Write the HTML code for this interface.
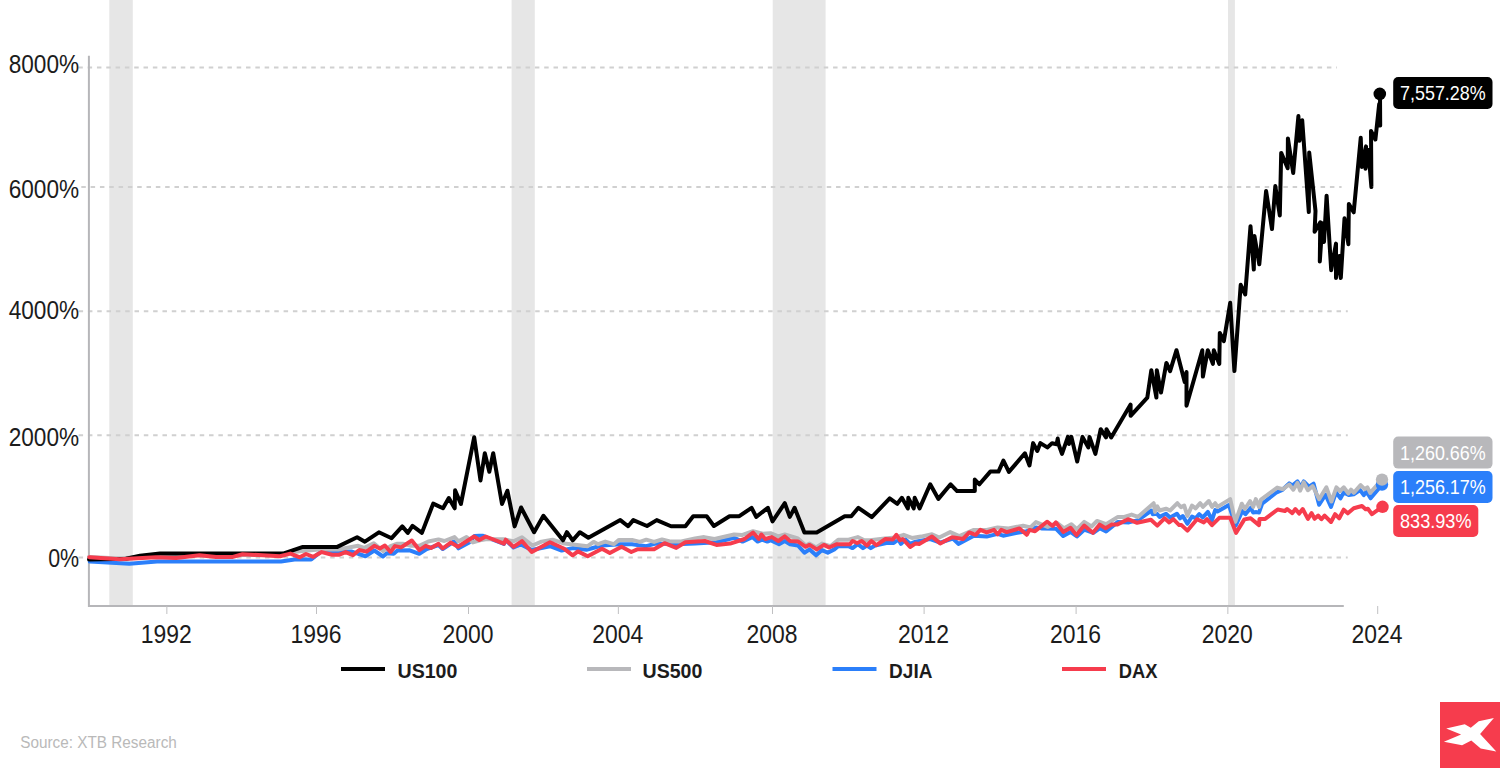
<!DOCTYPE html>
<html><head><meta charset="utf-8"><title>US100 vs US500 vs DJIA vs DAX</title>
<style>
html,body{margin:0;padding:0;background:#ffffff;}
body{width:1500px;height:768px;position:relative;overflow:hidden;font-family:"Liberation Sans",sans-serif;}
</style></head><body>
<svg width="1500" height="768" viewBox="0 0 1500 768" style="position:absolute;left:0;top:0">
<rect x="109.3" y="0" width="23.50" height="605" fill="#e6e6e6"/>
<rect x="511.6" y="0" width="23.20" height="605" fill="#e6e6e6"/>
<rect x="772.7" y="0" width="52.90" height="605" fill="#e6e6e6"/>
<rect x="1228.0" y="0" width="6.90" height="605" fill="#e6e6e6"/>
<line x1="78.3" y1="67.4" x2="1337" y2="67.4" stroke="#d0d0d0" stroke-width="2" stroke-dasharray="4.5 4.818"/>
<line x1="81.3" y1="187.1" x2="1341.6" y2="187.1" stroke="#d0d0d0" stroke-width="2" stroke-dasharray="4.5 4.818"/>
<line x1="78.6" y1="311.3" x2="1347.8" y2="311.3" stroke="#d0d0d0" stroke-width="2" stroke-dasharray="4.5 4.818"/>
<line x1="78.6" y1="435.3" x2="1347.8" y2="435.3" stroke="#d0d0d0" stroke-width="2" stroke-dasharray="4.5 4.818"/>
<line x1="78.6" y1="557.4" x2="1347.7" y2="557.4" stroke="#d0d0d0" stroke-width="2" stroke-dasharray="4.5 4.818"/>
<line x1="88.9" y1="55.7" x2="88.9" y2="607" stroke="#b6b6b9" stroke-width="2"/>
<line x1="88" y1="605.9" x2="1343.8" y2="605.9" stroke="#b6b6b9" stroke-width="2"/>
<line x1="166.85" y1="606" x2="166.85" y2="614" stroke="#c0c0c2" stroke-width="1"/>
<line x1="316.5" y1="606" x2="316.5" y2="614" stroke="#c0c0c2" stroke-width="1"/>
<line x1="468.5" y1="606" x2="468.5" y2="614" stroke="#c0c0c2" stroke-width="1"/>
<line x1="618.35" y1="606" x2="618.35" y2="614" stroke="#c0c0c2" stroke-width="1"/>
<line x1="772.5" y1="606" x2="772.5" y2="614" stroke="#c0c0c2" stroke-width="1"/>
<line x1="924.1" y1="606" x2="924.1" y2="614" stroke="#c0c0c2" stroke-width="1"/>
<line x1="1076.1" y1="606" x2="1076.1" y2="614" stroke="#c0c0c2" stroke-width="1"/>
<line x1="1227.85" y1="606" x2="1227.85" y2="614" stroke="#c0c0c2" stroke-width="1"/>
<line x1="1377.7" y1="606" x2="1377.7" y2="614" stroke="#c0c0c2" stroke-width="1"/>
<polyline points="89.80,561.60 129.30,563.70 157.00,561.60 281.00,561.50 294.60,559.40 311.25,559.40 320.60,552.00 351.90,551.60 365.40,556.25 374.30,550.50 383.00,556.50 386.70,553.30 393.70,553.80 397.40,550.60 409.70,550.30 419.30,553.80 426.70,549.00 438.50,545.00 442.70,549.00 453.90,541.50 458.50,548.30 469.20,542.40 474.50,536.00 479.30,535.70 483.10,535.70 485.70,537.00 503.90,544.00 505.70,540.00 513.50,547.50 520.90,544.50 531.70,550.00 550.00,546.20 561.70,550.50 572.70,548.10 586.40,549.70 602.00,545.50 620.30,544.20 632.00,544.20 646.30,546.20 655.40,543.60 676.25,544.20 695.00,543.60 716.50,542.30 734.10,537.70 742.50,541.60 752.30,537.10 757.50,541.60 762.10,539.70 767.30,541.60 770.50,540.30 779.00,544.20 784.80,541.00 790.05,544.20 797.90,545.50 804.40,552.70 809.60,549.40 816.10,555.30 822.00,550.10 827.80,552.70 834.30,549.40 838.20,546.20 848.60,546.20 852.55,548.10 857.80,544.20 863.00,548.10 866.90,545.50 870.80,548.10 875.00,545.50 886.40,543.00 893.70,543.00 898.30,539.40 901.00,543.90 905.50,539.40 910.10,543.90 915.60,541.60 930.20,539.00 940.20,542.70 952.90,538.50 958.40,543.90 973.90,535.70 986.70,536.60 997.60,533.90 1003.10,535.70 1015.80,533.00 1026.80,531.20 1035.90,527.50 1041.30,528.40 1055.90,528.70 1063.20,536.00 1070.50,531.90 1076.90,536.50 1084.20,529.70 1093.30,532.80 1099.70,528.30 1106.10,531.50 1117.90,521.90 1128.90,522.40 1138.00,520.10 1151.40,510.50 1152.80,514.20 1156.90,513.70 1159.60,516.90 1166.00,513.70 1170.10,517.40 1176.90,513.70 1180.10,518.30 1182.80,516.00 1187.40,523.80 1192.00,516.50 1195.60,518.30 1199.25,514.20 1202.90,517.40 1207.90,511.90 1212.00,520.10 1215.20,510.10 1217.50,511.40 1228.90,505.10 1235.70,525.60 1242.30,511.00 1245.40,514.20 1250.60,507.90 1253.20,512.60 1256.40,512.10 1259.00,512.60 1262.10,503.75 1276.70,492.30 1281.90,490.20 1289.20,483.40 1292.30,485.50 1297.50,481.40 1300.60,487.10 1303.75,481.40 1309.00,486.60 1313.60,483.70 1319.10,504.70 1325.50,494.60 1331.00,506.90 1336.00,492.40 1340.50,498.30 1343.70,492.40 1348.70,495.10 1353.75,494.20 1360.10,490.10 1363.80,495.10 1366.50,491.40 1370.60,498.30 1382.00,484.60" fill="none" stroke="#2b7ffa" stroke-width="4" stroke-linejoin="round" stroke-linecap="round"/>
<polyline points="89.00,557.00 120.00,558.50 160.00,555.20 283.00,555.00 292.50,552.00 318.50,549.50 338.30,549.50 358.10,545.80 364.40,547.90 373.75,543.20 383.00,551.10 390.50,546.10 397.40,543.70 402.70,543.70 411.30,545.80 419.30,545.80 428.30,541.50 438.50,539.40 444.30,541.00 454.50,537.10 458.50,541.30 466.50,537.10 472.90,542.40 479.90,540.30 485.70,539.20 503.30,539.20 513.50,541.30 522.00,537.30 532.40,545.50 541.50,541.60 552.60,539.70 564.30,543.60 587.70,546.20 593.60,541.90 598.10,544.20 605.30,541.60 613.75,544.20 619.00,539.90 632.00,539.90 639.80,541.90 646.30,539.70 654.10,541.90 662.00,539.40 671.00,541.60 680.20,541.60 695.00,538.40 704.10,537.10 714.50,539.00 734.10,534.50 741.90,535.10 753.00,531.20 762.70,533.80 770.50,533.20 778.30,536.40 784.80,534.50 797.90,538.40 805.70,545.50 809.60,543.60 816.10,547.50 822.00,543.60 830.40,546.20 838.20,539.70 848.60,539.70 857.80,537.10 864.30,540.30 870.00,540.30 884.60,538.50 895.50,537.50 903.70,534.80 911.90,537.90 921.00,536.60 932.00,534.30 939.30,537.50 950.20,532.10 959.30,536.10 973.90,529.90 986.70,529.90 997.60,527.50 1008.50,528.40 1023.10,525.70 1030.40,527.50 1035.90,522.10 1047.70,526.90 1056.90,522.80 1064.10,528.30 1071.40,524.20 1076.90,529.20 1084.20,521.90 1091.50,526.50 1097.00,521.00 1106.10,524.20 1117.90,516.90 1124.30,516.90 1131.60,514.60 1138.00,516.90 1153.70,503.20 1155.00,511.90 1157.30,506.40 1159.60,510.50 1166.00,508.70 1170.10,510.50 1177.40,503.20 1181.00,507.30 1184.20,505.50 1187.40,516.00 1192.00,505.50 1195.60,508.30 1200.20,503.20 1202.90,506.90 1208.80,501.00 1212.00,506.90 1215.20,503.20 1217.50,506.90 1230.20,499.10 1235.30,521.90 1241.80,503.75 1244.90,509.00 1250.10,501.10 1253.20,506.90 1255.80,499.10 1259.00,506.90 1261.00,499.60 1277.20,487.60 1282.90,489.20 1289.20,484.50 1293.30,489.70 1297.50,482.90 1300.10,490.70 1303.75,482.40 1307.90,490.20 1312.70,486.00 1319.10,499.20 1326.40,487.30 1331.40,501.50 1336.40,487.30 1340.10,491.00 1343.70,487.30 1348.30,493.30 1351.00,489.60 1353.75,492.80 1360.60,485.10 1364.70,489.20 1367.40,487.30 1370.20,492.80 1382.00,479.60" fill="none" stroke="#b8b8bb" stroke-width="4" stroke-linejoin="round" stroke-linecap="round"/>
<polyline points="89.00,559.50 126.00,558.80 140.00,555.80 160.00,553.60 283.10,553.60 302.90,546.90 337.30,546.90 357.10,537.30 364.90,541.70 378.90,532.30 391.60,538.20 402.30,526.40 407.80,532.90 412.50,525.90 421.90,532.90 433.20,503.60 443.00,508.30 448.80,498.10 454.70,508.30 455.10,490.30 460.90,504.00 474.20,437.20 480.50,480.50 484.80,453.20 489.30,471.80 493.20,453.20 502.00,504.00 507.40,490.70 514.60,526.40 521.10,507.50 534.10,532.20 543.40,515.80 563.00,540.30 566.90,532.20 572.70,540.30 579.90,532.20 588.40,537.70 620.30,520.10 628.10,526.25 633.30,520.10 647.00,526.00 656.70,520.10 671.00,526.25 685.40,526.25 693.20,516.20 706.70,516.20 713.90,526.00 729.50,516.20 739.30,516.20 751.60,507.80 756.20,516.90 767.90,507.80 772.50,521.40 784.80,503.20 789.80,516.90 794.60,507.80 804.40,532.50 816.70,532.50 844.70,516.20 851.25,516.20 858.40,507.80 871.80,517.10 889.70,498.40 897.30,503.80 901.90,497.80 907.90,508.40 908.30,497.80 913.75,508.40 914.70,497.80 919.60,508.40 930.20,484.30 938.40,498.90 950.60,484.30 957.10,491.10 974.80,491.10 974.80,479.60 979.40,484.30 990.30,471.60 998.50,471.60 1003.40,460.60 1008.90,471.90 1024.90,453.30 1029.50,465.50 1033.10,443.10 1037.30,451.00 1040.40,443.10 1047.30,447.40 1052.00,443.30 1056.70,444.20 1057.70,438.50 1058.50,444.00 1062.00,453.90 1067.90,436.90 1069.00,443.90 1071.40,436.90 1077.20,461.50 1082.50,436.90 1088.40,447.40 1089.50,436.90 1095.40,453.90 1100.70,429.20 1106.00,437.40 1106.50,429.20 1111.20,437.40 1130.60,404.60 1130.60,415.80 1147.30,397.60 1151.30,370.20 1156.40,397.60 1156.80,370.20 1161.00,392.60 1166.40,362.90 1170.10,371.10 1176.50,350.20 1184.70,382.00 1186.50,372.00 1186.50,405.80 1202.30,350.20 1202.90,376.60 1207.80,350.20 1212.90,363.90 1213.80,350.20 1219.30,363.90 1219.80,332.90 1223.85,341.10 1230.20,302.80 1234.40,371.10 1240.70,284.80 1245.20,294.50 1250.50,226.20 1253.80,269.50 1254.40,235.90 1259.30,264.30 1266.10,191.00 1272.00,229.10 1275.30,186.10 1279.80,215.40 1281.20,152.90 1287.70,168.30 1287.90,138.40 1293.20,173.00 1298.40,116.10 1299.50,140.80 1302.20,120.20 1308.80,212.00 1309.20,152.50 1315.50,211.00 1314.60,231.70 1320.30,222.30 1319.80,261.40 1322.40,223.30 1324.00,242.00 1326.60,195.70 1331.20,270.20 1336.00,243.60 1336.00,278.00 1339.30,256.00 1340.80,278.00 1344.50,218.30 1348.40,244.20 1348.85,203.90 1353.70,212.30 1360.75,137.80 1361.85,166.90 1366.00,146.40 1365.50,168.75 1368.30,150.00 1371.40,187.00 1371.00,130.90 1375.40,139.50 1379.20,104.00 1380.20,125.50 1380.00,94.00" fill="none" stroke="#000000" stroke-width="4" stroke-linejoin="round" stroke-linecap="round"/>
<polyline points="89.30,557.20 119.70,559.30 156.00,557.30 176.00,558.10 199.50,555.20 216.00,557.10 232.00,557.10 242.50,554.20 280.00,556.25 290.40,553.60 299.80,557.30 306.00,554.00 313.30,556.80 321.70,552.10 332.10,554.70 339.40,554.70 345.60,552.10 352.90,555.20 359.20,550.00 366.50,551.60 374.30,545.80 379.80,548.50 384.90,545.50 390.50,551.90 395.00,546.10 401.10,547.40 411.80,540.50 419.30,550.10 425.70,545.80 431.00,547.90 438.50,543.70 442.70,548.50 450.70,542.60 458.00,546.70 474.00,536.50 479.30,540.00 485.70,536.50 503.90,543.70 505.70,539.70 513.50,546.90 522.00,541.10 531.70,552.00 550.00,542.30 564.30,548.80 572.70,555.30 577.90,551.40 587.70,556.20 602.00,548.80 609.80,553.10 621.60,546.80 631.30,552.00 637.80,549.20 654.10,549.20 664.50,543.20 676.25,547.90 685.40,542.30 704.80,541.00 716.50,544.90 730.20,543.60 744.50,539.00 753.00,532.50 758.80,539.00 761.40,534.50 765.30,539.00 771.80,537.10 778.30,541.00 784.80,536.40 790.05,541.00 797.90,541.40 805.70,546.80 809.60,544.90 816.75,549.40 823.90,544.90 829.10,547.50 836.90,544.20 849.90,544.20 852.55,541.00 857.10,543.00 861.70,541.00 866.90,545.50 871.40,541.00 876.40,545.20 885.50,539.00 892.80,539.40 896.40,534.80 900.10,540.30 902.80,539.00 910.10,547.00 915.60,543.40 919.20,543.90 932.00,536.60 940.20,543.40 952.00,537.20 963.00,539.00 969.30,532.40 975.70,534.80 980.30,529.90 986.70,532.40 994.00,529.90 997.60,534.30 1001.20,529.90 1006.70,532.10 1019.50,528.40 1026.80,534.80 1029.50,529.90 1035.00,531.20 1047.00,521.70 1052.70,526.00 1055.90,522.40 1063.20,531.90 1070.50,527.80 1076.45,535.10 1084.20,525.60 1092.90,532.80 1099.70,524.60 1105.60,528.30 1111.50,524.60 1117.00,524.60 1128.00,519.20 1137.10,522.80 1150.90,519.70 1157.30,525.60 1164.60,518.30 1169.20,522.40 1173.30,519.20 1179.20,525.10 1181.50,525.10 1187.40,530.60 1197.00,519.20 1203.80,522.40 1207.00,519.20 1212.00,525.10 1219.30,517.80 1230.20,517.80 1236.00,532.90 1244.40,519.40 1250.60,518.30 1259.00,525.10 1259.50,518.90 1265.20,518.90 1277.70,509.50 1285.00,511.00 1287.10,509.00 1292.30,513.10 1295.40,509.00 1299.10,513.60 1302.70,509.00 1307.90,518.90 1311.60,513.10 1314.60,518.80 1318.20,515.60 1321.40,519.25 1324.60,515.60 1331.00,522.00 1335.10,514.20 1339.20,518.30 1343.70,509.70 1347.80,513.30 1353.75,508.30 1362.00,506.00 1365.60,509.20 1367.90,508.80 1372.00,514.20 1382.00,506.90" fill="none" stroke="#f63c4d" stroke-width="4" stroke-linejoin="round" stroke-linecap="round"/>
<circle cx="1382" cy="484.6" r="6.2" fill="#2b7ffa"/>
<circle cx="1382" cy="479.6" r="6.2" fill="#b8b8bb"/>
<circle cx="1382.5" cy="506.8" r="6.2" fill="#f63c4d"/>
<circle cx="1379.8" cy="93.9" r="6.3" fill="#000000"/>
<rect x="1393.2" y="77" width="99.3" height="32" rx="5" ry="5" fill="#000000"/>
<text x="1442.85" y="100.00" text-anchor="middle" fill="#ffffff" font-family="Liberation Sans" font-size="21" textLength="85.7" lengthAdjust="spacingAndGlyphs">7,557.28%</text>
<rect x="1393.2" y="436.6" width="99.3" height="32" rx="5" ry="5" fill="#b8b8bb"/>
<text x="1442.85" y="459.60" text-anchor="middle" fill="#ffffff" font-family="Liberation Sans" font-size="21" textLength="85.7" lengthAdjust="spacingAndGlyphs">1,260.66%</text>
<rect x="1393.2" y="471" width="99.3" height="32" rx="5" ry="5" fill="#2b7ffa"/>
<text x="1442.85" y="494.00" text-anchor="middle" fill="#ffffff" font-family="Liberation Sans" font-size="21" textLength="85.7" lengthAdjust="spacingAndGlyphs">1,256.17%</text>
<rect x="1393.2" y="505" width="85.1" height="32" rx="5" ry="5" fill="#f63c4d"/>
<text x="1435.75" y="528.00" text-anchor="middle" fill="#ffffff" font-family="Liberation Sans" font-size="21" textLength="71.5" lengthAdjust="spacingAndGlyphs">833.93%</text>
<text x="8.70" y="73.30" fill="#1c1c1c" font-family="Liberation Sans" font-size="25" textLength="70.5" lengthAdjust="spacingAndGlyphs">8000%</text>
<text x="8.70" y="197.50" fill="#1c1c1c" font-family="Liberation Sans" font-size="25" textLength="70.5" lengthAdjust="spacingAndGlyphs">6000%</text>
<text x="8.70" y="319.40" fill="#1c1c1c" font-family="Liberation Sans" font-size="25" textLength="70.5" lengthAdjust="spacingAndGlyphs">4000%</text>
<text x="8.70" y="445.50" fill="#1c1c1c" font-family="Liberation Sans" font-size="25" textLength="70.5" lengthAdjust="spacingAndGlyphs">2000%</text>
<text x="48.20" y="567.30" fill="#1c1c1c" font-family="Liberation Sans" font-size="25" textLength="31" lengthAdjust="spacingAndGlyphs">0%</text>
<text x="140.75" y="642.8" fill="#1c1c1c" font-family="Liberation Sans" font-size="25" textLength="51" lengthAdjust="spacingAndGlyphs">1992</text>
<text x="290.40" y="642.8" fill="#1c1c1c" font-family="Liberation Sans" font-size="25" textLength="51" lengthAdjust="spacingAndGlyphs">1996</text>
<text x="442.40" y="642.8" fill="#1c1c1c" font-family="Liberation Sans" font-size="25" textLength="51" lengthAdjust="spacingAndGlyphs">2000</text>
<text x="592.25" y="642.8" fill="#1c1c1c" font-family="Liberation Sans" font-size="25" textLength="51" lengthAdjust="spacingAndGlyphs">2004</text>
<text x="746.40" y="642.8" fill="#1c1c1c" font-family="Liberation Sans" font-size="25" textLength="51" lengthAdjust="spacingAndGlyphs">2008</text>
<text x="898.00" y="642.8" fill="#1c1c1c" font-family="Liberation Sans" font-size="25" textLength="51" lengthAdjust="spacingAndGlyphs">2012</text>
<text x="1050.00" y="642.8" fill="#1c1c1c" font-family="Liberation Sans" font-size="25" textLength="51" lengthAdjust="spacingAndGlyphs">2016</text>
<text x="1201.75" y="642.8" fill="#1c1c1c" font-family="Liberation Sans" font-size="25" textLength="51" lengthAdjust="spacingAndGlyphs">2020</text>
<text x="1351.60" y="642.8" fill="#1c1c1c" font-family="Liberation Sans" font-size="25" textLength="51" lengthAdjust="spacingAndGlyphs">2024</text>
<line x1="341" y1="669" x2="385" y2="669" stroke="#000000" stroke-width="4"/>
<text x="397.50" y="678.3" fill="#1c1c1c" font-family="Liberation Sans" font-weight="bold" font-size="20" textLength="59.9" lengthAdjust="spacingAndGlyphs">US100</text>
<line x1="587" y1="669" x2="631" y2="669" stroke="#b8b8bb" stroke-width="4"/>
<text x="642.50" y="678.3" fill="#1c1c1c" font-family="Liberation Sans" font-weight="bold" font-size="20" textLength="59.9" lengthAdjust="spacingAndGlyphs">US500</text>
<line x1="832.5" y1="669" x2="876.5" y2="669" stroke="#2b7ffa" stroke-width="4"/>
<text x="889.10" y="678.3" fill="#1c1c1c" font-family="Liberation Sans" font-weight="bold" font-size="20" textLength="43.3" lengthAdjust="spacingAndGlyphs">DJIA</text>
<line x1="1062" y1="669" x2="1106" y2="669" stroke="#f63c4d" stroke-width="4"/>
<text x="1118.70" y="678.3" fill="#1c1c1c" font-family="Liberation Sans" font-weight="bold" font-size="20" textLength="38.7" lengthAdjust="spacingAndGlyphs">DAX</text>
<text x="20.3" y="747.6" fill="#b9b9b9" font-family="Liberation Sans" font-size="16" textLength="156.5" lengthAdjust="spacingAndGlyphs">Source: XTB Research</text>
<rect x="1440" y="702" width="60" height="66" fill="#f63c4d"/>
<polygon points="1446.20,728.40 1464.70,724.30 1470.80,727.80 1478.70,721.30 1493.90,717.90 1480.10,733.90 1496.30,751.60 1480.70,748.40 1471.30,740.50 1462.10,745.30 1443.90,741.80 1461.10,734.40" fill="#ffffff"/>
</svg>
</body></html>
